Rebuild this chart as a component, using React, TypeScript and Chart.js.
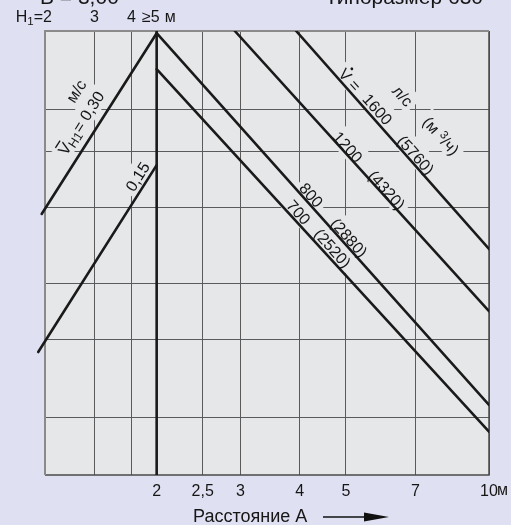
import React, { useEffect, useRef } from 'react';
import { Chart, registerables } from 'chart.js';

Chart.register(...registerables);

// ---------- data ----------
const X_MIN = 1.1646;
const X_MAX = 10;
const Y_MIN = 0;
const Y_MAX = 100;

const xTickValues = [1.48, 1.77, 2, 2.5, 3, 4, 5, 7, 10];
const xTickLabels = ['', '', '2', '2,5', '3', '4', '5', '7', '10'];
const yGridValues = [12.84, 30.63, 43.24, 60.36, 72.97, 82.43];

const h1Positions = [1.48, 1.77];
const h1Labels = ['3', '4'];

// velocity lines v_H1 (m/s)
const velocity030 = [{ x: 1.146, y: 58.8 }, { x: 2, y: 99.5 }];
const velocity015 = [{ x: 1.127, y: 27.7 }, { x: 2, y: 69.8 }];
// flow lines V (l/s)
const flow1600 = [{ x: 3.93, y: 100 }, { x: 10, y: 50.9 }];
const flow1200 = [{ x: 2.92, y: 100 }, { x: 10, y: 36.9 }];
const flow800 = [{ x: 2, y: 99.5 }, { x: 10, y: 15.8 }];
const flow700 = [{ x: 2, y: 91.4 }, { x: 10, y: 9.75 }];
const divider = [{ x: 2, y: Y_MIN }, { x: 2, y: Y_MAX }];

// ---------- styles ----------
const FAMILY = '"Liberation Sans", Arial, Helvetica, sans-serif';
const PAGE_BG = '#dfe1f2';
const PLOT_BG = '#e6e7e9';
const GRID = '#5a5a5a';
const INK = '#1a1a1a';
const TEXT = '#161616';

type Part = { t: string; s?: number; dy?: number; mark?: 'bar' | 'dot' };
type Label = { parts: Part[]; x: number; y: number; a: number };

const LEFT_ANGLE = -57.5;
const RIGHT_ANGLE = 48;

const plotLabels: Label[] = [
  { parts: [{ t: 'V', mark: 'bar' }, { t: 'H1', s: 0.78, dy: 3 }, { t: '= 0,30' }], x: 1.386, y: 79.3, a: LEFT_ANGLE },
  { parts: [{ t: 'м/с' }], x: 1.353, y: 86.5, a: LEFT_ANGLE },
  { parts: [{ t: '0,15' }], x: 1.822, y: 67.2, a: LEFT_ANGLE },
  { parts: [{ t: 'V', mark: 'dot' }, { t: ' =' }], x: 5.1, y: 89.0, a: RIGHT_ANGLE },
  { parts: [{ t: '1600' }], x: 5.83, y: 82.4, a: RIGHT_ANGLE },
  { parts: [{ t: 'л/с' }], x: 6.59, y: 85.4, a: RIGHT_ANGLE },
  { parts: [{ t: '(м ' }, { t: '3', s: 0.72, dy: -5 }, { t: '/ч)' }], x: 7.93, y: 76.4, a: RIGHT_ANGLE },
  { parts: [{ t: '(5760)' }], x: 7.02, y: 72.1, a: RIGHT_ANGLE },
  { parts: [{ t: '1200' }], x: 5.05, y: 73.9, a: RIGHT_ANGLE },
  { parts: [{ t: '(4320)' }], x: 6.1, y: 64.2, a: RIGHT_ANGLE },
  { parts: [{ t: '800' }], x: 4.23, y: 63.1, a: RIGHT_ANGLE },
  { parts: [{ t: '(2880)' }], x: 5.08, y: 53.5, a: RIGHT_ANGLE },
  { parts: [{ t: '700' }], x: 3.98, y: 59.2, a: RIGHT_ANGLE },
  { parts: [{ t: '(2520)' }], x: 4.69, y: 51.1, a: RIGHT_ANGLE },
];

const LABEL_SIZE = 16;

function measureParts(ctx: CanvasRenderingContext2D, parts: Part[], size: number) {
  return parts.map((p) => {
    ctx.font = `${size * (p.s || 1)}px ${FAMILY}`;
    return ctx.measureText(p.t).width;
  });
}

function drawParts(ctx: CanvasRenderingContext2D, parts: Part[], size: number, align: 'center' | 'left' | 'right' = 'center', baselineAtZero = false) {
  const widths = measureParts(ctx, parts, size);
  const total = widths.reduce((a, b) => a + b, 0);
  let x = align === 'center' ? -total / 2 : align === 'right' ? -total : 0;
  const base = baselineAtZero ? 0 : 0.36 * size;
  ctx.textAlign = 'left';
  ctx.textBaseline = 'alphabetic';
  parts.forEach((p, i) => {
    ctx.font = `${size * (p.s || 1)}px ${FAMILY}`;
    ctx.fillText(p.t, x, base + (p.dy || 0));
    if (p.mark === 'bar') {
      ctx.fillRect(x + 1, base - 0.72 * size - 3, widths[i] - 2, 1.3);
    } else if (p.mark === 'dot') {
      ctx.beginPath();
      ctx.arc(x + widths[i] / 2, base - 0.72 * size - 3, 1.4, 0, Math.PI * 2);
      ctx.fill();
    }
    x += widths[i];
  });
  return total;
}

const decor = {
  id: 'decor',
  beforeDraw(chart: any) {
    const { ctx, chartArea: a, width, height } = chart;
    ctx.save();
    ctx.fillStyle = PAGE_BG;
    ctx.fillRect(0, 0, width, height);
    ctx.fillStyle = PLOT_BG;
    ctx.fillRect(a.left, a.top, a.right - a.left, a.bottom - a.top);
    ctx.restore();
  },
  beforeDatasetsDraw(chart: any) {
    const { ctx, chartArea: a, scales } = chart;
    ctx.save();
    // knock out grid behind labels
    ctx.fillStyle = PLOT_BG;
    plotLabels.forEach((l) => {
      const px = scales.x.getPixelForValue(l.x);
      const py = scales.y.getPixelForValue(l.y);
      const w = measureParts(ctx, l.parts, LABEL_SIZE).reduce((s, v) => s + v, 0);
      ctx.save();
      ctx.translate(px, py);
      ctx.rotate((l.a * Math.PI) / 180);
      ctx.fillRect(-w / 2 - 4, -LABEL_SIZE / 2 - 4, w + 8, LABEL_SIZE + 6);
      ctx.restore();
    });
    // frame
    ctx.lineWidth = 1.5;
    ctx.strokeStyle = '#4a4a4a';
    ctx.beginPath();
    ctx.moveTo(a.left, a.bottom);
    ctx.lineTo(a.right, a.bottom);
    ctx.lineTo(a.right, a.top);
    ctx.stroke();
    ctx.lineWidth = 2;
    ctx.strokeStyle = '#8a8a8a';
    ctx.beginPath();
    ctx.moveTo(a.right, a.top);
    ctx.lineTo(a.left, a.top);
    ctx.lineTo(a.left, a.bottom);
    ctx.stroke();
    ctx.restore();
  },
  afterDatasetsDraw(chart: any) {
    const { ctx, scales } = chart;
    ctx.save();
    ctx.fillStyle = TEXT;
    plotLabels.forEach((l) => {
      const px = scales.x.getPixelForValue(l.x);
      const py = scales.y.getPixelForValue(l.y);
      ctx.save();
      ctx.translate(px, py);
      ctx.rotate((l.a * Math.PI) / 180);
      drawParts(ctx, l.parts, LABEL_SIZE);
      ctx.restore();
    });
    ctx.restore();
  },
  afterDraw(chart: any) {
    const { ctx, chartArea: a, scales } = chart;
    const sx = scales.x;
    ctx.save();
    ctx.fillStyle = TEXT;
    ctx.textBaseline = 'alphabetic';
    // header (cut off at the top edge)
    ctx.font = `21px ${FAMILY}`;
    ctx.textAlign = 'left';
    ctx.fillText('B = 3,00', 40, 4);
    ctx.textAlign = 'right';
    ctx.fillText('Типоразмер 630', 483, 4);
    // H1 row
    const hy = 22;
    ctx.save();
    ctx.translate(sx.getPixelForValue(X_MIN) + 7, hy);
    drawParts(ctx, [{ t: 'H' }, { t: '1', s: 0.72, dy: 3 }, { t: '=2' }], 16, 'right', true);
    ctx.restore();
    ctx.font = `16px ${FAMILY}`;
    ctx.textAlign = 'center';
    h1Positions.forEach((v, i) => ctx.fillText(h1Labels[i], sx.getPixelForValue(v), hy));
    const p2 = sx.getPixelForValue(2);
    ctx.textAlign = 'right';
    ctx.fillText('≥5', p2 + 3, hy);
    ctx.textAlign = 'left';
    ctx.fillText('м', p2 + 8, hy);
    // unit after last tick
    ctx.fillText('м', sx.getPixelForValue(X_MAX) + 8, a.bottom + 20);
    // axis title + arrow
    ctx.font = `18px ${FAMILY}`;
    ctx.fillText('Расстояние А', 193, 522);
    ctx.strokeStyle = '#111';
    ctx.lineWidth = 1.4;
    ctx.beginPath();
    ctx.moveTo(323, 517);
    ctx.lineTo(368, 517);
    ctx.stroke();
    ctx.fillStyle = '#111';
    ctx.beginPath();
    ctx.moveTo(364, 512.5);
    ctx.lineTo(389, 517);
    ctx.lineTo(364, 521.5);
    ctx.closePath();
    ctx.fill();
    ctx.restore();
  },
};

function lineSet(data: { x: number; y: number }[], width = 2.6, clip: any = undefined) {
  return {
    data,
    showLine: true,
    borderColor: INK,
    backgroundColor: INK,
    borderWidth: width,
    pointRadius: 0,
    fill: false,
    tension: 0,
    borderCapStyle: 'round' as const,
    ...(clip !== undefined ? { clip } : {}),
  };
}

export default function App() {
  const ref = useRef<HTMLCanvasElement>(null);
  useEffect(() => {
    document.body.style.margin = '0';
    document.body.style.background = PAGE_BG;
    const chart = new Chart(ref.current as HTMLCanvasElement, {
      type: 'line',
      data: {
        datasets: [
          lineSet(divider, 2.6),
          lineSet(velocity030, 2.6, false),
          lineSet(velocity015, 2.6, false),
          lineSet(flow1600),
          lineSet(flow1200),
          lineSet(flow800),
          lineSet(flow700),
        ] as any,
      },
      options: {
        animation: false,
        responsive: false,
        devicePixelRatio: 1,
        parsing: true,
        layout: { padding: { left: 45, right: 22, top: 31, bottom: 0 } },
        plugins: { legend: { display: false }, tooltip: { enabled: false } },
        scales: {
          x: {
            type: 'logarithmic',
            min: X_MIN,
            max: X_MAX,
            afterBuildTicks: (s: any) => {
              s.ticks = xTickValues.map((v) => ({ value: v }));
            },
            afterFit: (s: any) => {
              s.height = 50;
            },
            ticks: {
              autoSkip: false,
              maxRotation: 0,
              minRotation: 0,
              padding: 7,
              color: TEXT,
              font: { family: FAMILY, size: 16 },
              callback: (_v: any, i: number) => xTickLabels[i],
            },
            grid: { color: GRID, lineWidth: 1, drawTicks: false },
            border: { display: false },
          },
          y: {
            type: 'linear',
            min: Y_MIN,
            max: Y_MAX,
            afterBuildTicks: (s: any) => {
              s.ticks = yGridValues.map((v) => ({ value: v }));
            },
            afterFit: (s: any) => {
              s.width = 0;
            },
            ticks: { display: false },
            grid: { color: GRID, lineWidth: 1, drawTicks: false },
            border: { display: false },
          },
        },
      } as any,
      plugins: [decor],
    });
    return () => chart.destroy();
  }, []);
  return (
    <div style={{ width: 511, height: 525 }}>
      <canvas ref={ref} width={511} height={525} style={{ display: 'block' }} />
    </div>
  );
}
